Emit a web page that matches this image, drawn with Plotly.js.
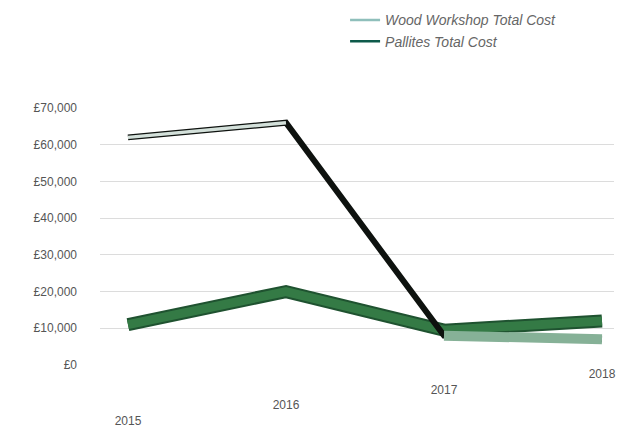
<!DOCTYPE html>
<html>
<head>
<meta charset="utf-8">
<script src="https://cdn.plot.ly/plotly-3.0.1.min.js"></script>
<style>
  html, body { margin: 0; padding: 0; background: #ffffff; }
  #chart { width: 624px; height: 436px; }
</style>
</head>
<body>
<div id="chart"></div>
<script>
// ---- data ----
const years = ['2015', '2016', '2017', '2018'];
const woodWorkshop = [62000, 66000, 8000, 7000];
const pallites = [11000, 20000, 9500, 12000];
const seriesNames = ['Wood Workshop Total Cost', 'Pallites Total Cost'];
const valueTicks = [0, 10000, 20000, 30000, 40000, 50000, 60000, 70000];
const valueTickLabels = ['£0', '£10,000', '£20,000', '£30,000', '£40,000', '£50,000', '£60,000', '£70,000'];
// staggered year labels (perspective look): earlier years sit lower
const yearTickText = years.map((y, i) => '<br>'.repeat(years.length - 1 - i) + y);

const traces = [
  // Pallites ribbon
  {type: 'scatter', mode: 'lines', x: years, y: pallites, showlegend: false, hoverinfo: 'skip',
   line: {color: '#1f5230', width: 13}},
  {type: 'scatter', mode: 'lines', x: years, y: pallites, showlegend: false, hoverinfo: 'skip',
   line: {color: '#347a45', width: 9}},
  // Wood Workshop ribbon: dark body
  {type: 'scatter', mode: 'lines', x: years, y: woodWorkshop, showlegend: false, hoverinfo: 'skip',
   line: {color: '#0e120f', width: 6}},
  // light top on the flat stretches
  {type: 'scatter', mode: 'lines', x: years.slice(0, 2), y: woodWorkshop.slice(0, 2), showlegend: false,
   hoverinfo: 'skip', line: {color: '#d3e0da', width: 3.5}},
  {type: 'scatter', mode: 'lines', x: years.slice(2), y: woodWorkshop.slice(2), showlegend: false,
   hoverinfo: 'skip', line: {color: '#86b197', width: 10}},
  // legend entries
  {type: 'scatter', x: [null], y: [null], mode: 'lines', name: seriesNames[0],
   line: {color: '#8fbfbb', width: 2.5}, hoverinfo: 'skip'},
  {type: 'scatter', x: [null], y: [null], mode: 'lines', name: seriesNames[1],
   line: {color: '#0d5a4a', width: 2.5}, hoverinfo: 'skip'}
];

const layout = {
  width: 624, height: 436,
  margin: {l: 100, r: 10, t: 108, b: 71, autoexpand: false},
  paper_bgcolor: '#ffffff', plot_bgcolor: '#ffffff',
  font: {family: 'Liberation Sans, Arial, sans-serif', color: '#555555', size: 11},
  showlegend: true,
  legend: {xref: 'container', yref: 'container', x: 0.553, y: 0.99, xanchor: 'left', yanchor: 'top',
           bgcolor: 'rgba(0,0,0,0)', font: {size: 14, color: '#666666', style: 'italic'},
           tracegroupgap: 0},
  xaxis: {type: 'category', range: [-0.177, 3.076], tickvals: years, ticktext: yearTickText,
          showgrid: false, zeroline: false, showline: false, ticks: '', automargin: false,
          tickfont: {size: 12, color: '#555555'}, fixedrange: true},
  yaxis: {range: [0, 70000], tickvals: valueTicks, ticktext: valueTickLabels, automargin: false,
          showgrid: true, gridcolor: '#dcdcdc', gridwidth: 1, zeroline: false, showline: false,
          ticks: '', ticklabelstandoff: 22, tickfont: {size: 12, color: '#555555'}, fixedrange: true}
};

Plotly.newPlot('chart', traces, layout, {displayModeBar: false, staticPlot: true});
</script>
</body>
</html>
